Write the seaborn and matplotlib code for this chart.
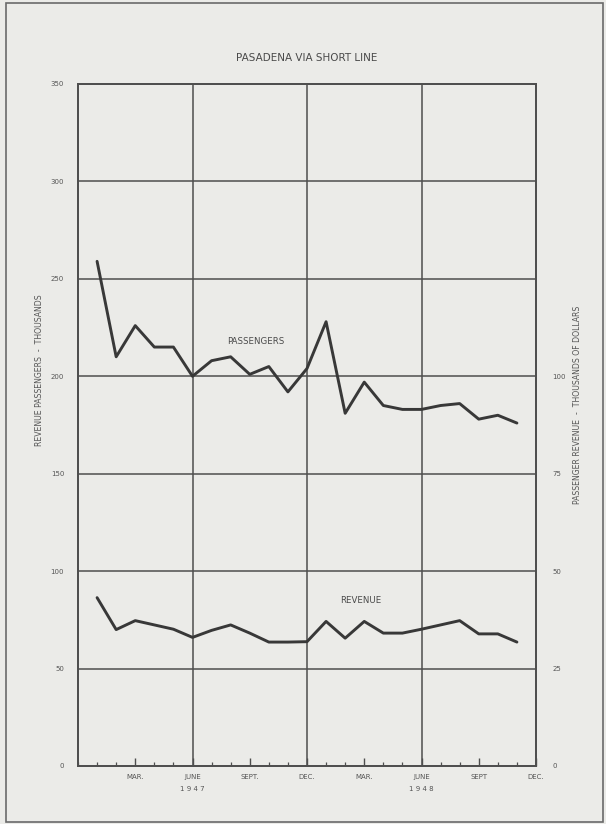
import pandas as pd
import seaborn as sns
import matplotlib.pyplot as plt
from matplotlib.patches import Rectangle

# months counted from Dec 1946 (0) to Dec 1948 (24); data Jan 1947 .. Nov 1948
months = list(range(1, 24))

passengers = [259, 210, 226, 215, 215, 200, 208, 210, 201, 205, 192, 204,
              228, 181, 197, 185, 183, 183, 185, 186, 178, 180, 176]

revenue = [43.2, 35.0, 37.3, 36.2, 35.1, 33.0, 34.8, 36.2, 34.1, 31.8, 31.8, 31.9,
           37.1, 32.8, 37.1, 34.1, 34.1, 35.1, 36.2, 37.3, 33.9, 33.9, 31.8]

tick_pos = [3, 6, 9, 12, 15, 18, 21, 24]
tick_labels = ['MAR.', 'JUNE', 'SEPT.', 'DEC.', 'MAR.', 'JUNE', 'SEPT', 'DEC.']
years = [('1 9 4 7', 6), ('1 9 4 8', 18)]

df = pd.DataFrame({'month': months, 'passengers': passengers, 'revenue': revenue})

sns.set_style("white")
plt.rcParams['font.family'] = ['DejaVu Sans']

bg = '#ebebe8'
ink = '#383838'
txt = '#555555'
grid = '#4e4e4e'

fig = plt.figure(figsize=(6.06, 8.24), dpi=100, facecolor=bg)
ax = fig.add_axes([78 / 606, 58 / 824, 458 / 606, 682 / 824])
ax.set_facecolor(bg)

# outer frame of the page
fig.patches.append(Rectangle((6 / 606, 0.002), 597 / 606, 0.994, transform=fig.transFigure,
                             fill=False, edgecolor='#6a6a6a', linewidth=1.2))

sns.lineplot(data=df, x='month', y='passengers', ax=ax, color=ink, linewidth=2.1)

ax2 = ax.twinx()
sns.lineplot(data=df, x='month', y='revenue', ax=ax2, color=ink, linewidth=2.1)

ax.set_xlim(0, 24)
ax.set_ylim(0, 350)
ax2.set_ylim(0, 175)

# grid
for v in [6, 12, 18]:
    ax.axvline(v, color=grid, linewidth=1.1, zorder=0)
for h in range(50, 350, 50):
    ax.axhline(h, color=grid, linewidth=1.1, zorder=0)

for a in (ax, ax2):
    for s in a.spines.values():
        s.set_color(grid)
        s.set_linewidth(1.3)

ax.set_xticks(range(0, 25), minor=True)
ax.set_xticks(tick_pos)
ax.set_xticklabels(tick_labels)
ax.tick_params(axis='x', which='minor', bottom=True, direction='in', length=3, width=0.9, color=grid)
ax.tick_params(axis='x', which='major', bottom=True, direction='in', length=6, width=1.0, color=grid,
               labelsize=5, labelcolor=txt, pad=6)

ax.set_yticks(range(0, 351, 50))
ax.tick_params(axis='y', length=0, labelsize=5, labelcolor=txt, pad=10)
ax2.set_yticks(range(0, 101, 25))
ax2.tick_params(axis='y', length=0, labelsize=5, labelcolor=txt, pad=12)

ax.set_xlabel('')
ax.set_ylabel('REVENUE PASSENGERS  -  THOUSANDS', fontsize=5.6, color=txt)
ax.yaxis.set_label_coords(-0.074, 0.58)
ax2.set_ylabel('PASSENGER REVENUE  -  THOUSANDS OF DOLLARS', fontsize=5.6, color=txt)
ax2.yaxis.set_label_coords(1.081, 0.53)

for label, pos in years:
    ax.text(pos, -0.033, label, transform=ax.get_xaxis_transform(), ha='center', va='center',
            fontsize=5, color=txt)

ax.text(0.5, 1.038, 'PASADENA VIA SHORT LINE', transform=ax.transAxes, ha='center', va='center',
        fontsize=7.5, color='#4a4a4a')
ax.text(9.3, 218, 'PASSENGERS', ha='center', va='center', fontsize=6.2, color='#4a4a4a')
ax2.text(14.8, 42.4, 'REVENUE', ha='center', va='center', fontsize=6.2, color='#4a4a4a')

fig.savefig('out.png', dpi=100, facecolor=bg)
plt.close(fig)
